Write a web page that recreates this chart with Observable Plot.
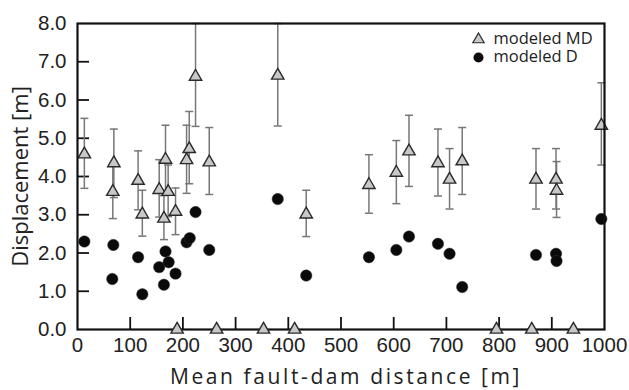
<!DOCTYPE html>
<html>
<head>
<meta charset="utf-8">
<script src="https://cdn.jsdelivr.net/npm/d3@7"></script>
<script src="https://cdn.jsdelivr.net/npm/@observablehq/plot@0.6"></script>
<style>
  html, body { margin: 0; padding: 0; background: #fff; }
  #chart svg { display: block; }
  .xtitle text { letter-spacing: 2.6px; }
</style>
</head>
<body>
<div id="chart"></div>
<script>
// ---- data ----
const mdDist = [13, 69, 67, 115, 123, 155, 164, 167, 172, 186, 207, 212, 224, 250, 380, 434, 553, 605, 629, 684, 706, 730, 870, 908, 909, 994];
const mdVal  = [4.58, 4.35, 3.60, 3.89, 3.01, 3.65, 2.90, 4.44, 3.60, 3.08, 4.43, 4.72, 6.61, 4.37, 6.64, 3.01, 3.78, 4.10, 4.66, 4.35, 3.92, 4.40, 3.92, 3.92, 3.63, 5.33];
const mdLo   = [3.69, 3.45, 2.90, 3.13, 2.44, 2.94, 2.35, 3.55, 2.95, 2.48, 3.56, 3.81, 5.31, 3.53, 5.32, 2.43, 3.04, 3.29, 3.74, 3.49, 3.15, 3.53, 3.15, 3.15, 2.93, 4.30];
const mdHi   = [5.52, 5.24, 4.30, 4.67, 3.64, 4.44, 3.50, 5.34, 4.30, 3.70, 5.34, 5.70, 8.00, 5.28, 8.00, 3.64, 4.57, 4.94, 5.60, 5.24, 4.73, 5.28, 4.73, 4.73, 4.39, 6.45];
const mdZeroDist = [189, 264, 353, 412, 795, 862, 941];

const dDist = [13, 68, 66, 115, 123, 155, 164, 167, 173, 186, 207, 213, 224, 250, 380, 434, 553, 605, 629, 684, 706, 730, 870, 908, 909, 994];
const dVal  = [2.30, 2.21, 1.32, 1.89, 0.92, 1.63, 1.17, 2.04, 1.76, 1.46, 2.28, 2.39, 3.07, 2.08, 3.41, 1.41, 1.89, 2.08, 2.43, 2.24, 1.98, 1.11, 1.95, 1.98, 1.79, 2.89];
const dErr  = 0.08;

const xTicks = [0, 100, 200, 300, 400, 500, 600, 700, 800, 900, 1000];
const yTicks = [0, 1, 2, 3, 4, 5, 6, 7, 8];
const legendLabels = ["modeled MD", "modeled D"];
const xTitle = "Mean fault-dam distance [m]";
const yTitle = "Displacement [m]";

// ---- tables ----
const md = mdDist.map((x, i) => ({x, y: mdVal[i], lo: mdLo[i], hi: mdHi[i]}));
const mdZero = mdZeroDist.map(x => ({x, y: 0}));
const dd = dDist.map((x, i) => ({x, y: dVal[i], lo: dVal[i] - dErr, hi: dVal[i] + dErr}));

const capSymbol = {
  draw(context, size) {
    const w = 4;
    context.moveTo(-w, 0);
    context.lineTo(w, 0);
  }
};

const tickFont = "'Liberation Sans', Arial, sans-serif";
const titleFont = "'Open Sans', 'Noto Sans', sans-serif";

const chart = Plot.plot({
  width: 629,
  height: 390,
  marginLeft: 77,
  marginRight: 25,
  marginTop: 23,
  marginBottom: 61,
  style: {fontFamily: tickFont, fontSize: "20.5px", color: "#222", background: "#fff"},
  x: {domain: [0, 1000], axis: null},
  y: {domain: [0, 8], axis: null},
  marks: [
    // inward ticks
    Plot.axisX({ticks: xTicks.slice(1, -1), tickSize: 12, dy: -12, text: null, label: null, stroke: "#111", strokeWidth: 1.8}),
    Plot.axisY({ticks: yTicks.slice(1, -1), tickSize: 12, dx: 12, text: null, label: null, stroke: "#111", strokeWidth: 1.8}),
    // tick labels
    Plot.axisX({ticks: xTicks, tickSize: 0, tickPadding: 8, label: null, tickFormat: d3.format("d"), fontSize: 20.5, fill: "#222"}),
    Plot.axisY({ticks: yTicks, tickSize: 0, tickPadding: 11, label: null, tickFormat: d3.format(".1f"), fontSize: 20.5, fill: "#222"}),
    // error bars MD
    Plot.ruleX(md, {x: "x", y1: "lo", y2: "hi", stroke: "#777", strokeWidth: 1.5}),
    Plot.dot(md, {x: "x", y: "lo", symbol: capSymbol, stroke: "#777", strokeWidth: 1.5, r: 4}),
    Plot.dot(md, {x: "x", y: "hi", symbol: capSymbol, stroke: "#777", strokeWidth: 1.5, r: 4}),
    // error bars D
    Plot.ruleX(dd, {x: "x", y1: "lo", y2: "hi", stroke: "#777", strokeWidth: 1.5}),
    Plot.dot(dd, {x: "x", y: "lo", symbol: capSymbol, stroke: "#777", strokeWidth: 1.2, r: 3}),
    Plot.dot(dd, {x: "x", y: "hi", symbol: capSymbol, stroke: "#777", strokeWidth: 1.2, r: 3}),
    // D points
    Plot.dot(dd, {x: "x", y: "y", r: 5.7, fill: "#0a0a0a", stroke: "#333", strokeWidth: 0.5}),
    // MD points
    Plot.dot(md, {x: "x", y: "y", symbol: "triangle", r: 4.6, fill: "#c8c8c8", stroke: "#2a2a2a", strokeWidth: 1.4}),
    // frame
    Plot.frame({stroke: "#111", strokeWidth: 2.2}),
    // zero MD points on the axis
    Plot.dot(mdZero, {x: "x", y: "y", symbol: "triangle", r: 4.6, fill: "#c8c8c8", stroke: "#2a2a2a", strokeWidth: 1.4}),
    // legend
    Plot.dot([legendLabels[0]], {frameAnchor: "top-right", dx: -126, dy: 16, symbol: "triangle", r: 4.2, fill: "#c8c8c8", stroke: "#2a2a2a", strokeWidth: 1.2}),
    Plot.dot([legendLabels[1]], {frameAnchor: "top-right", dx: -126, dy: 34, r: 5, fill: "#0a0a0a"}),
    Plot.text([legendLabels[0]], {frameAnchor: "top-right", dx: -111, dy: 15.5, text: d => d, textAnchor: "start", lineAnchor: "middle", fontSize: 16.5, fontFamily: titleFont, fill: "#222"}),
    Plot.text([legendLabels[1]], {frameAnchor: "top-right", dx: -111, dy: 33.5, text: d => d, textAnchor: "start", lineAnchor: "middle", fontSize: 16.5, fontFamily: titleFont, fill: "#222"}),
    // axis titles
    Plot.text([xTitle], {frameAnchor: "bottom", dx: 5, dy: 48, text: d => d, textAnchor: "middle", lineAnchor: "middle", fontSize: 21, fontFamily: titleFont, fill: "#222", className: "xtitle"}),
    Plot.text([yTitle], {frameAnchor: "left", dx: -57, rotate: -90, text: d => d, textAnchor: "middle", lineAnchor: "middle", fontSize: 22, fontFamily: titleFont, fill: "#222"})
  ]
});

document.getElementById("chart").appendChild(chart);
</script>
</body>
</html>
